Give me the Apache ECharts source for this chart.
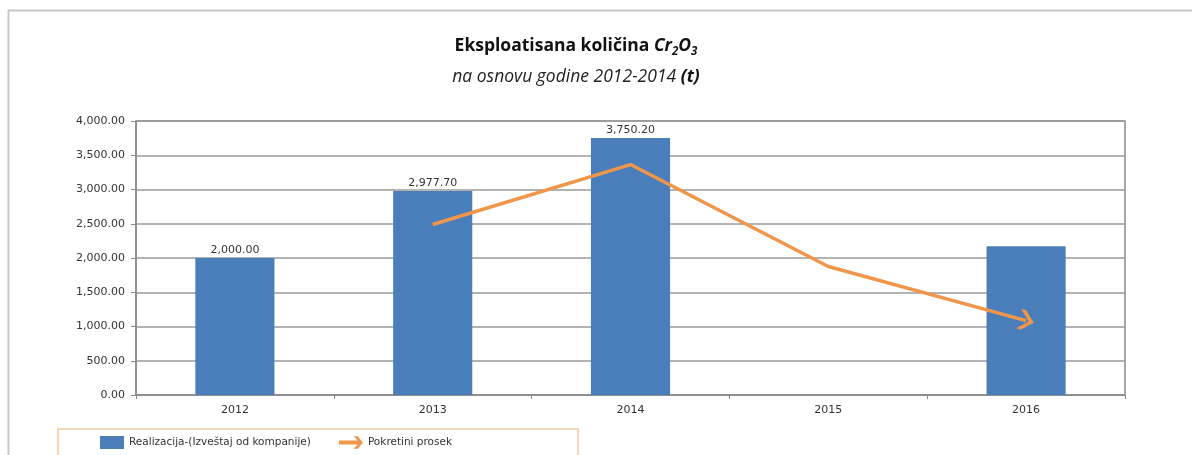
<!DOCTYPE html>
<html><head><meta charset="utf-8">
<script src="https://cdn.jsdelivr.net/npm/echarts@6/dist/echarts.min.js"></script>
<style>html,body{margin:0;padding:0;background:#fff}#c{width:1192px;height:455px}</style>
</head><body><div id="c"></div>
<script>
const categories = ['2012', '2013', '2014', '2015', '2016'];
const realizacija = [2000.00, 2977.70, 3750.20, null, 2170];
const labeledBars = [true, true, true, false, false];
const pokretniProsek = [null, 2488.85, 3363.95, 1875.10, 1085.10];
const yTicks = { min: 0, max: 4000, interval: 500 };
const seriesNames = ['Realizacija-(Izveštaj od kompanije)', 'Pokretini prosek'];

const FONT = '"Open Sans", Lato, sans-serif';
const SMALL = '"DejaVu Sans", sans-serif';
const fmt = v => v.toLocaleString('en-US', { minimumFractionDigits: 2, maximumFractionDigits: 2 });
const chevron = 'path://M0,0 L4,0 L12,7 L4,14 L0,14 L8,7 Z';
const legendArrow = 'path://M0,5 L18,5 L14,1 L18,1 L23,7 L18,13 L14,13 L18,9 L0,9 Z';

const barData = realizacija.map((v, i) => ({
  value: v,
  label: { show: labeledBars[i] }
}));
const last = pokretniProsek.length - 1;
const lineData = pokretniProsek.map((v, i) => i === last ? {
  value: v, symbol: chevron, symbolSize: [16, 20], symbolRotate: -15.5, symbolKeepAspect: false
} : { value: v });

const chart = echarts.init(document.getElementById('c'));
chart.setOption({
  animation: false,
  backgroundColor: '#fff',
  graphic: [{
    type: 'rect', shape: { x: 8.5, y: 10.5, width: 1300, height: 600 },
    style: { fill: 'none', stroke: '#c8c8c8', lineWidth: 2 }, silent: true
  }],
  title: {
    text: '{b|Eksploatisana količina }{bi|Cr}{bs|2}{bi|O}{bs|3}\n{i|na osnovu godine 2012-2014 }{bi|(t)}',
    left: 571, textAlign: 'center', top: 26,
    textStyle: {
      fontWeight: 'normal',
      rich: {
        b: { fontFamily: FONT, fontSize: 17.5, fontWeight: 'bold', color: '#111', lineHeight: 31 },
        bs: { fontFamily: FONT, fontSize: 11.5, fontWeight: 'bold', fontStyle: 'italic', color: '#111', padding: [11, 0, 0, 0], lineHeight: 31 },
        i: { fontFamily: FONT, fontSize: 17.5, fontStyle: 'italic', fontWeight: 'normal', color: '#222', lineHeight: 31 },
        bi: { fontFamily: FONT, fontSize: 17.5, fontStyle: 'italic', fontWeight: 'bold', color: '#111', lineHeight: 31 }
      }
    }
  },
  grid: { left: 136, right: 67, top: 121, bottom: 60, show: true, borderColor: '#8a8a8a', borderWidth: 1.5, backgroundColor: '#fff' },
  legend: {
    left: 58, top: 429,
    padding: [7, 126, 8, 42],
    itemGap: 28,
    borderColor: '#f5c9a0', borderWidth: 1.5,
    textStyle: { fontFamily: SMALL, fontSize: 10.5, color: '#333' },
    data: [
      { name: seriesNames[0], icon: 'rect', itemWidth: 18, itemHeight: 6 },
      { name: seriesNames[1], icon: legendArrow }
    ],
    itemWidth: 24, itemHeight: 13
  },
  xAxis: {
    type: 'category', data: categories,
    axisLine: { lineStyle: { color: '#8a8a8a', width: 1.5 } },
    axisTick: { show: true, alignWithLabel: false, length: 4, lineStyle: { color: '#8a8a8a' } },
    axisLabel: { fontFamily: SMALL, fontSize: 11, color: '#333', margin: 10 }
  },
  yAxis: {
    type: 'value', min: yTicks.min, max: yTicks.max, interval: yTicks.interval,
    axisLine: { show: true, lineStyle: { color: '#8a8a8a', width: 1.5 } },
    axisTick: { show: true, length: 5, lineStyle: { color: '#8a8a8a' } },
    splitLine: { lineStyle: { color: '#9a9a9a', width: 1.5 } },
    axisLabel: { fontFamily: SMALL, fontSize: 11, color: '#333', margin: 11, formatter: v => fmt(v) }
  },
  series: [{
    name: seriesNames[0], type: 'bar', data: barData, barWidth: '40%',
    itemStyle: { color: '#4a7ebb' },
    label: { position: 'top', distance: 2, fontFamily: SMALL, fontSize: 11, color: '#333', formatter: p => fmt(p.value) }
  }, {
    name: seriesNames[1], type: 'line', data: lineData,
    symbol: 'none', showSymbol: true, connectNulls: false,
    lineStyle: { color: '#f0964a', width: 3.5 },
    itemStyle: { color: '#f0964a' }
  }]
});
</script></body></html>
